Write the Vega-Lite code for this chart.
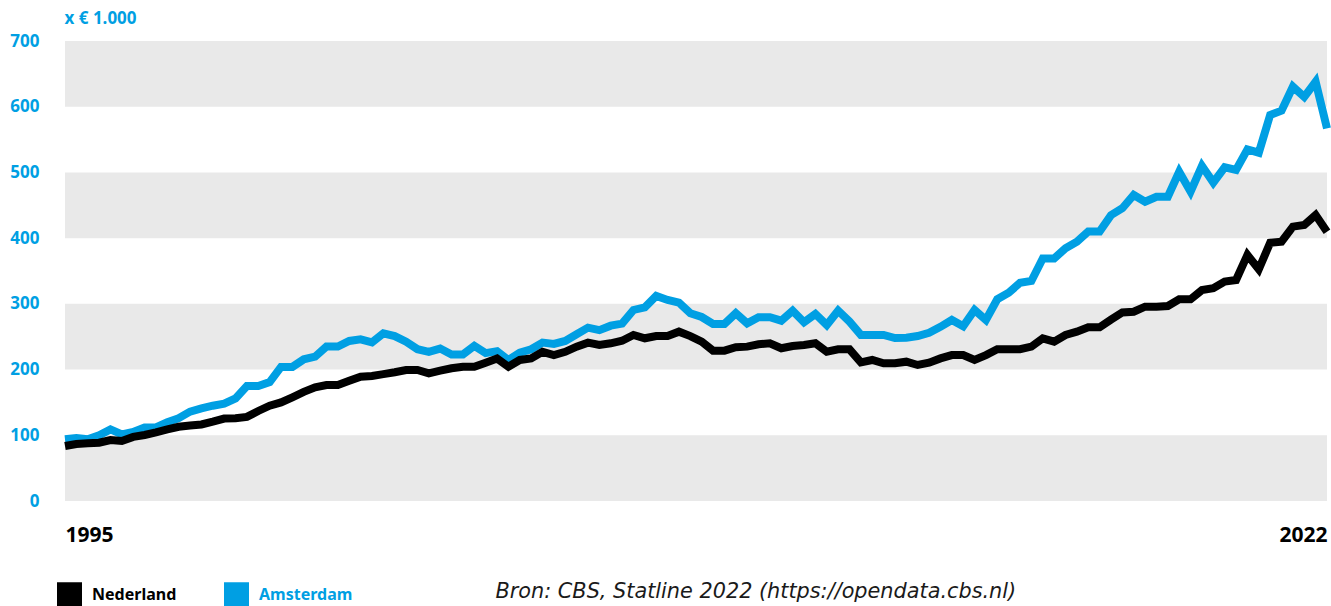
{
  "$schema": "https://vega.github.io/schema/vega-lite/v6.json",
  "width": 1262,
  "height": 460,
  "autosize": {"type": "none"},
  "padding": {"left": 65, "top": 41, "right": 4, "bottom": 105},
  "background": "white",
  "config": {"view": {"stroke": null}, "font": "Noto Sans"},
  "datasets": {
    "banden": [
      {"van": 0, "tot": 100},
      {"van": 200, "tot": 300},
      {"van": 400, "tot": 500},
      {"van": 600, "tot": 700}
    ],
    "prijzen": [
      {"t": 1995.0, "Nederland": 83.7, "Amsterdam": 94},
      {"t": 1995.25, "Nederland": 86.8, "Amsterdam": 96},
      {"t": 1995.5, "Nederland": 87.8, "Amsterdam": 94},
      {"t": 1995.75, "Nederland": 88.7, "Amsterdam": 100},
      {"t": 1996.0, "Nederland": 92.8, "Amsterdam": 109},
      {"t": 1996.25, "Nederland": 91.3, "Amsterdam": 101.5},
      {"t": 1996.5, "Nederland": 97.5, "Amsterdam": 105},
      {"t": 1996.75, "Nederland": 100.5, "Amsterdam": 112},
      {"t": 1997.0, "Nederland": 104.5, "Amsterdam": 112},
      {"t": 1997.25, "Nederland": 109, "Amsterdam": 120},
      {"t": 1997.5, "Nederland": 113, "Amsterdam": 126},
      {"t": 1997.75, "Nederland": 115, "Amsterdam": 136},
      {"t": 1998.0, "Nederland": 116.5, "Amsterdam": 141},
      {"t": 1998.25, "Nederland": 120.7, "Amsterdam": 145},
      {"t": 1998.5, "Nederland": 125.5, "Amsterdam": 148},
      {"t": 1998.75, "Nederland": 125.8, "Amsterdam": 156},
      {"t": 1999.0, "Nederland": 128, "Amsterdam": 175},
      {"t": 1999.25, "Nederland": 137, "Amsterdam": 175},
      {"t": 1999.5, "Nederland": 145, "Amsterdam": 181},
      {"t": 1999.75, "Nederland": 150, "Amsterdam": 204},
      {"t": 2000.0, "Nederland": 157.8, "Amsterdam": 204},
      {"t": 2000.25, "Nederland": 166, "Amsterdam": 215.6},
      {"t": 2000.5, "Nederland": 173, "Amsterdam": 219.6},
      {"t": 2000.75, "Nederland": 176.5, "Amsterdam": 235},
      {"t": 2001.0, "Nederland": 176.5, "Amsterdam": 235},
      {"t": 2001.25, "Nederland": 183, "Amsterdam": 243.5},
      {"t": 2001.5, "Nederland": 189.2, "Amsterdam": 246},
      {"t": 2001.75, "Nederland": 190.3, "Amsterdam": 241.5},
      {"t": 2002.0, "Nederland": 193, "Amsterdam": 255},
      {"t": 2002.25, "Nederland": 196, "Amsterdam": 251},
      {"t": 2002.5, "Nederland": 199.4, "Amsterdam": 242.5},
      {"t": 2002.75, "Nederland": 199.4, "Amsterdam": 231},
      {"t": 2003.0, "Nederland": 194.3, "Amsterdam": 227},
      {"t": 2003.25, "Nederland": 198.3, "Amsterdam": 232},
      {"t": 2003.5, "Nederland": 202, "Amsterdam": 223},
      {"t": 2003.75, "Nederland": 204.4, "Amsterdam": 223},
      {"t": 2004.0, "Nederland": 204.4, "Amsterdam": 236},
      {"t": 2004.25, "Nederland": 210.5, "Amsterdam": 225},
      {"t": 2004.5, "Nederland": 217, "Amsterdam": 228},
      {"t": 2004.75, "Nederland": 204.4, "Amsterdam": 214.6},
      {"t": 2005.0, "Nederland": 214.6, "Amsterdam": 225.7},
      {"t": 2005.25, "Nederland": 217, "Amsterdam": 231},
      {"t": 2005.5, "Nederland": 227, "Amsterdam": 241},
      {"t": 2005.75, "Nederland": 222, "Amsterdam": 239},
      {"t": 2006.0, "Nederland": 227, "Amsterdam": 243.5},
      {"t": 2006.25, "Nederland": 234.9, "Amsterdam": 253.7},
      {"t": 2006.5, "Nederland": 241, "Amsterdam": 263.8},
      {"t": 2006.75, "Nederland": 237.4, "Amsterdam": 260},
      {"t": 2007.0, "Nederland": 240, "Amsterdam": 266.8},
      {"t": 2007.25, "Nederland": 243.9, "Amsterdam": 270},
      {"t": 2007.5, "Nederland": 252.7, "Amsterdam": 290.7},
      {"t": 2007.75, "Nederland": 247.6, "Amsterdam": 294.8},
      {"t": 2008.0, "Nederland": 251, "Amsterdam": 312},
      {"t": 2008.25, "Nederland": 251, "Amsterdam": 306},
      {"t": 2008.5, "Nederland": 257.7, "Amsterdam": 301.8},
      {"t": 2008.75, "Nederland": 251, "Amsterdam": 285.7},
      {"t": 2009.0, "Nederland": 242.5, "Amsterdam": 280},
      {"t": 2009.25, "Nederland": 228.8, "Amsterdam": 269.4},
      {"t": 2009.5, "Nederland": 228.8, "Amsterdam": 269.4},
      {"t": 2009.75, "Nederland": 234, "Amsterdam": 285.7},
      {"t": 2010.0, "Nederland": 234.9, "Amsterdam": 270.4},
      {"t": 2010.25, "Nederland": 238.5, "Amsterdam": 279.6},
      {"t": 2010.5, "Nederland": 240, "Amsterdam": 279.6},
      {"t": 2010.75, "Nederland": 232.4, "Amsterdam": 274.4},
      {"t": 2011.0, "Nederland": 235.9, "Amsterdam": 289.6},
      {"t": 2011.25, "Nederland": 237.4, "Amsterdam": 272},
      {"t": 2011.5, "Nederland": 240, "Amsterdam": 284.6},
      {"t": 2011.75, "Nederland": 227.2, "Amsterdam": 267.9},
      {"t": 2012.0, "Nederland": 230.9, "Amsterdam": 289.6},
      {"t": 2012.25, "Nederland": 230.9, "Amsterdam": 273},
      {"t": 2012.5, "Nederland": 211, "Amsterdam": 252.7},
      {"t": 2012.75, "Nederland": 214.6, "Amsterdam": 252.7},
      {"t": 2013.0, "Nederland": 209.6, "Amsterdam": 252.7},
      {"t": 2013.25, "Nederland": 209.6, "Amsterdam": 248},
      {"t": 2013.5, "Nederland": 212, "Amsterdam": 248.5},
      {"t": 2013.75, "Nederland": 207, "Amsterdam": 251},
      {"t": 2014.0, "Nederland": 210.5, "Amsterdam": 256},
      {"t": 2014.25, "Nederland": 217, "Amsterdam": 265},
      {"t": 2014.5, "Nederland": 222, "Amsterdam": 275.5},
      {"t": 2014.75, "Nederland": 222, "Amsterdam": 266},
      {"t": 2015.0, "Nederland": 214.6, "Amsterdam": 290.7},
      {"t": 2015.25, "Nederland": 222, "Amsterdam": 275.5},
      {"t": 2015.5, "Nederland": 230.9, "Amsterdam": 307},
      {"t": 2015.75, "Nederland": 230.9, "Amsterdam": 317},
      {"t": 2016.0, "Nederland": 230.9, "Amsterdam": 332},
      {"t": 2016.25, "Nederland": 234.9, "Amsterdam": 334.8},
      {"t": 2016.5, "Nederland": 247.6, "Amsterdam": 369},
      {"t": 2016.75, "Nederland": 242.5, "Amsterdam": 369},
      {"t": 2017.0, "Nederland": 252.7, "Amsterdam": 384.6},
      {"t": 2017.25, "Nederland": 257.7, "Amsterdam": 394.7},
      {"t": 2017.5, "Nederland": 264.4, "Amsterdam": 410},
      {"t": 2017.75, "Nederland": 264.4, "Amsterdam": 410},
      {"t": 2018.0, "Nederland": 276, "Amsterdam": 435},
      {"t": 2018.25, "Nederland": 287, "Amsterdam": 445.5},
      {"t": 2018.5, "Nederland": 288, "Amsterdam": 465.7},
      {"t": 2018.75, "Nederland": 295.7, "Amsterdam": 455.5},
      {"t": 2019.0, "Nederland": 295.7, "Amsterdam": 463},
      {"t": 2019.25, "Nederland": 296.8, "Amsterdam": 463},
      {"t": 2019.5, "Nederland": 307, "Amsterdam": 501},
      {"t": 2019.75, "Nederland": 307, "Amsterdam": 470.8},
      {"t": 2020.0, "Nederland": 321, "Amsterdam": 510},
      {"t": 2020.25, "Nederland": 323.7, "Amsterdam": 484.5},
      {"t": 2020.5, "Nederland": 333.8, "Amsterdam": 507.8},
      {"t": 2020.75, "Nederland": 336.3, "Amsterdam": 503.8},
      {"t": 2021.0, "Nederland": 374.4, "Amsterdam": 535},
      {"t": 2021.25, "Nederland": 352.6, "Amsterdam": 530},
      {"t": 2021.5, "Nederland": 393, "Amsterdam": 587.5},
      {"t": 2021.75, "Nederland": 394.6, "Amsterdam": 594},
      {"t": 2022.0, "Nederland": 417.5, "Amsterdam": 630.5},
      {"t": 2022.25, "Nederland": 420, "Amsterdam": 615},
      {"t": 2022.5, "Nederland": 435.2, "Amsterdam": 638},
      {"t": 2022.75, "Nederland": 409.8, "Amsterdam": 567}
    ]
  },
  "layer": [
    {
      "data": {"name": "banden"},
      "mark": {"type": "rect", "color": "#e9e9e9"},
      "encoding": {
        "y": {
          "field": "van",
          "type": "quantitative",
          "scale": {"domain": [0, 700], "nice": false},
          "axis": {
            "values": [0, 100, 200, 300, 400, 500, 600, 700],
            "labelFontSize": 17,
            "labelFontWeight": "bold",
            "labelColor": "#009FE3",
            "labelPadding": 26,
            "labelFlush": false,
            "ticks": false,
            "tickSize": 0,
            "domain": false,
            "grid": false,
            "title": "x € 1.000",
            "titleAngle": 0,
            "titleX": -1,
            "titleY": -23,
            "titleAlign": "left",
            "titleBaseline": "middle",
            "titleFontSize": 17,
            "titleFontWeight": "bold",
            "titleColor": "#009FE3"
          }
        },
        "y2": {"field": "tot"}
      }
    },
    {
      "data": {"name": "prijzen"},
      "transform": [{"fold": ["Amsterdam", "Nederland"], "as": ["regio", "prijs"]}],
      "mark": {"type": "line", "strokeWidth": 8, "strokeJoin": "miter", "strokeCap": "butt"},
      "encoding": {
        "x": {
          "field": "t",
          "type": "quantitative",
          "scale": {"domain": [1995, 2022.75], "nice": false, "zero": false},
          "axis": {
            "values": [1995, 2022.75],
            "labelExpr": "datum.value < 2000 ? '1995' : '2022'",
            "labelFlush": true,
            "labelOverlap": false,
            "labelFontSize": 21,
            "labelFontWeight": "bold",
            "labelColor": "#000000",
            "labelPadding": 23,
            "ticks": false,
            "tickSize": 0,
            "domain": false,
            "grid": false,
            "title": "Bron: CBS, Statline 2022 (https://opendata.cbs.nl)",
            "titleX": 430,
            "titleY": 90,
            "titleAlign": "left",
            "titleBaseline": "middle",
            "titleFont": "DejaVu Sans",
            "titleFontStyle": "italic",
            "titleFontWeight": "normal",
            "titleFontSize": 20.8,
            "titleColor": "#1a1a1a"
          }
        },
        "y": {
          "field": "prijs",
          "type": "quantitative",
          "scale": {"domain": [0, 700], "nice": false},
          "axis": {
            "values": [0, 100, 200, 300, 400, 500, 600, 700],
            "labelFontSize": 17,
            "labelFontWeight": "bold",
            "labelColor": "#009FE3",
            "labelPadding": 26,
            "labelFlush": false,
            "ticks": false,
            "tickSize": 0,
            "domain": false,
            "grid": false,
            "title": "x € 1.000",
            "titleAngle": 0,
            "titleX": -1,
            "titleY": -23,
            "titleAlign": "left",
            "titleBaseline": "middle",
            "titleFontSize": 17,
            "titleFontWeight": "bold",
            "titleColor": "#009FE3"
          }
        },
        "color": {
          "field": "regio",
          "type": "nominal",
          "scale": {"domain": ["Nederland", "Amsterdam"], "range": ["#000000", "#009FE3"]},
          "legend": {
            "orient": "none",
            "legendX": -8,
            "legendY": 541,
            "direction": "horizontal",
            "title": null,
            "symbolType": "square",
            "symbolSize": 144,
            "symbolStrokeWidth": 13,
            "symbolOpacity": 1,
            "labelFontSize": 16,
            "labelFontWeight": "bold",
            "labelColor": {"expr": "datum.value === 'Amsterdam' ? '#009FE3' : '#000000'"},
            "labelOffset": 10,
            "columnPadding": 27,
            "padding": 0
          }
        }
      }
    }
  ]
}
